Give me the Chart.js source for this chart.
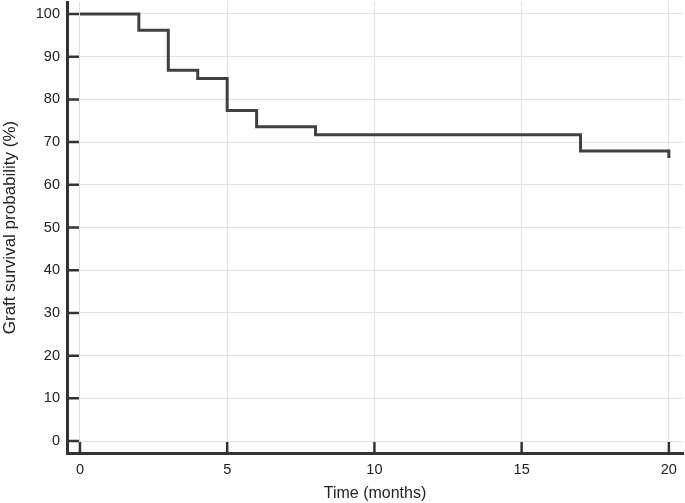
<!DOCTYPE html>
<html><head><meta charset="utf-8">
<script src="https://cdn.jsdelivr.net/npm/chart.js@4/dist/chart.umd.min.js"></script>
<style>html,body{margin:0;padding:0;background:#fff}#w{width:685px;height:503px}</style>
</head><body><div id="w"><canvas id="c"></canvas></div>
<script>
const timeMonths = [0, 2, 3, 4, 5, 6, 8, 17, 20, 20];
const survivalPct = [100, 96.2, 86.8, 84.9, 77.4, 73.6, 71.7, 67.9, 67.9, 66.3];
const xTicks = [0, 5, 10, 15, 20];
const yTicks = [0, 10, 20, 30, 40, 50, 60, 70, 80, 90, 100];

const fam = '"Liberation Sans", Arial, sans-serif';
const tickFont = {family: fam, size: 14.5};
const inwardTicks = {
  id: 'inwardTicks',
  afterDraw(chart) {
    const {ctx, scales: {x, y}} = chart;
    ctx.save();
    ctx.strokeStyle = '#333';
    ctx.lineWidth = 2.5;
    ctx.beginPath();
    yTicks.forEach(v => { const p = y.getPixelForValue(v); ctx.moveTo(x.left, p); ctx.lineTo(x.left + 12, p); });
    xTicks.forEach(v => { const p = x.getPixelForValue(v); ctx.moveTo(p, y.bottom); ctx.lineTo(p, y.bottom - 11); });
    ctx.stroke();
    ctx.restore();
  }
};
const noPad = s => { s.paddingTop = 0; s.paddingBottom = 0; s.paddingLeft = 0; s.paddingRight = 0; };

new Chart(document.getElementById('c'), {
  type: 'line',
  data: {
    datasets: [{
      data: timeMonths.map((t, i) => ({x: t, y: survivalPct[i]})),
      stepped: 'before',
      borderColor: '#404040',
      borderWidth: 3,
      pointRadius: 0,
      fill: false
    }]
  },
  options: {
    responsive: true,
    maintainAspectRatio: false,
    animation: false,
    layout: {padding: {top: 2, right: 2, left: 0, bottom: 0}},
    plugins: {legend: {display: false}, tooltip: {enabled: false}},
    scales: {
      x: {
        type: 'linear', min: -0.44, max: 20.48,
        afterBuildTicks: s => { s.ticks = xTicks.map(v => ({value: v})); },
        afterFit: s => { s.height = 50; noPad(s); },
        border: {color: '#333', width: 3},
        grid: {color: '#e0e0e0', lineWidth: 1, drawTicks: false},
        ticks: {color: '#222', font: tickFont, padding: 8, maxRotation: 0},
        title: {display: true, text: 'Time (months)', color: '#222', font: {family: fam, size: 16}, padding: {top: 1, bottom: 0}}
      },
      y: {
        type: 'linear', min: -2.8, max: 102.8,
        afterBuildTicks: s => { s.ticks = yTicks.map(v => ({value: v})); },
        afterFit: s => { s.width = 67; noPad(s); },
        border: {color: '#333', width: 3},
        grid: {color: '#e0e0e0', lineWidth: 1, drawTicks: false},
        ticks: {color: '#222', font: tickFont, padding: 7},
        title: {display: true, text: 'Graft survival probability (%)', color: '#222', font: {family: fam, size: 17}, padding: {top: 0, bottom: 2}}
      }
    }
  },
  plugins: [inwardTicks]
});
</script></body></html>
